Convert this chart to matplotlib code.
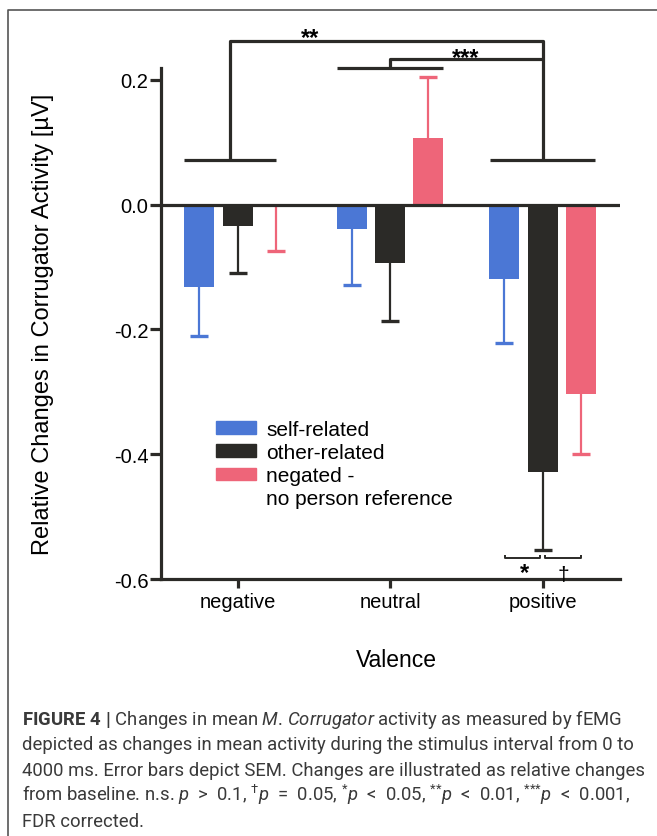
import numpy as np
import matplotlib
matplotlib.use('Agg')
import matplotlib.pyplot as plt
from matplotlib.patches import Patch
from matplotlib.lines import Line2D

plt.rcParams['font.family'] = ['Liberation Sans', 'DejaVu Sans']
plt.rcParams['mathtext.fontset'] = 'custom'
plt.rcParams['mathtext.rm'] = 'Roboto'
plt.rcParams['mathtext.it'] = 'Roboto:italic'
plt.rcParams['mathtext.bf'] = 'Roboto:bold'

# data
valences = ['negative', 'neutral', 'positive']
conditions = ['self-related', 'other-related', 'negated -']
means = {
    'self-related': [-0.132, -0.039, -0.119],
    'other-related': [-0.034, -0.093, -0.428],
    'negated -': [-0.003, 0.107, -0.303],
}
sems = {
    'self-related': [0.078, 0.089, 0.102],
    'other-related': [0.075, 0.093, 0.125],
    'negated -': [0.071, 0.097, 0.097],
}
colors = ['#4b77d5', '#2b2a27', '#ee6579']
dark = '#2b2a27'

fig = plt.figure(figsize=(6.57, 8.37), dpi=100)
ax = fig.add_axes([161 / 657, 1 - 580 / 837, 459 / 657, 511.5 / 837])

x = np.arange(len(valences))
width = 0.197
offsets = [-0.25, 0.0, 0.25]

for cond, off, c in zip(conditions, offsets, colors):
    m = np.array(means[cond])
    e = np.array(sems[cond])
    ends = m + np.sign(m) * e   # one-sided error bars, away from zero
    xs = x + off
    ax.vlines(xs, m, ends, color=c, lw=1.6, zorder=2)
    ax.plot(xs, ends, ls='none', marker='_', ms=13, mew=2.4, color=c, zorder=2)
    ax.bar(xs, m, width=width, color=c, zorder=3)

ax.axhline(0, color=dark, lw=2.3, zorder=5)

ax.set_xlim(-0.502, 2.508)
ax.set_ylim(-0.6, 0.22)
ax.set_yticks([-0.6, -0.4, -0.2, 0.0, 0.2])
ax.set_yticklabels(['-0.6', '-0.4', '-0.2', '0.0', '0.2'])
ax.set_xticks(x)
ax.set_xticklabels(valences)
for s in ['top', 'right']:
    ax.spines[s].set_visible(False)
for s in ['left', 'bottom']:
    ax.spines[s].set_linewidth(2.3)
    ax.spines[s].set_color(dark)
ax.tick_params(axis='y', length=8, width=2.3, color=dark, labelsize=14.5, pad=1)
ax.tick_params(axis='x', length=6.5, width=2.3, color=dark, labelsize=14.5, pad=3)

ax.set_ylabel('Relative Changes in Corrugator Activity [µV]', fontsize=17)
ax.yaxis.set_label_coords(-0.233, 0.5)
ax.set_xlabel('Valence', fontsize=16.5, va='top')
ax.xaxis.set_label_coords(0.512, -0.135)

# significance brackets
def seg(xs, ys, lw=2.3):
    ax.plot(xs, ys, color=dark, lw=lw, clip_on=False, zorder=6,
            solid_capstyle='butt')

top_y, group_y = 0.2625, 0.0713
seg([-0.35, 0.25], [group_y, group_y])
seg([1.656, 2.344], [group_y, group_y])
seg([-0.05, -0.05, 2.0, 2.0], [group_y, top_y, top_y, group_y])
seg([0.652, 1.348], [0.219, 0.219])
seg([1.0, 1.0, 2.0], [0.219, 0.233, 0.233])
ax.text(0.475, 0.257, '**', ha='center', va='baseline', fontsize=17,
        fontweight='bold', clip_on=False)
ax.text(1.498, 0.226, '***', ha='center', va='baseline', fontsize=17,
        fontweight='bold', clip_on=False)

seg([1.754, 1.754, 1.984, 1.984], [-0.562, -0.567, -0.567, -0.562], lw=1.4)
seg([2.016, 2.016, 2.252, 2.252], [-0.562, -0.567, -0.567, -0.562], lw=1.4)
ax.text(1.879, -0.600, '*', ha='center', va='baseline', fontsize=17,
        fontweight='bold')
ax.text(2.134, -0.601, '†', ha='center', va='baseline', fontsize=15)

# legend
handles = [Patch(color=c) for c in colors] + [Patch(facecolor='none', edgecolor='none')]
labels = conditions + ['no person reference']
ax.legend(handles, labels, loc='upper left', bbox_to_anchor=(0.1198, 0.311),
          frameon=False, fontsize=15, handlelength=1.92, handleheight=0.55,
          handletextpad=0.48, labelspacing=0.2, borderpad=0, borderaxespad=0)

# frame around figure
fig.add_artist(Line2D([8 / 657, 8 / 657, 1.0], [0.0, 1 - 11 / 837, 1 - 11 / 837],
                      transform=fig.transFigure, color='#555555', lw=1.2))

# caption
caption = [
    r"$\mathbf{FIGURE\ 4\ |}$ Changes in mean $\mathit{M}$. $\mathit{Corrugator}$ activity as measured by fEMG",
    "depicted as changes in mean activity during the stimulus interval from 0 to",
    "4000 ms. Error bars depict SEM. Changes are illustrated as relative changes",
    r"from baseline. n.s. $\mathit{p}$  >  0.1, ${}^{†}\mathit{p}$  =  0.05, ${}^{{*}}\mathit{p}$  <  0.05, "
    r"${}^{{*}{*}}\mathit{p}$  <  0.01, ${}^{{*}{*}{*}}\mathit{p}$  <  0.001,",
    "FDR corrected.",
]
baselines = [725, 750.5, 776, 801.5, 827]
for line, yb in zip(caption, baselines):
    fig.text(22 / 657, 1 - yb / 837, line, family='Roboto', fontsize=13.3,
             color='#3a3a3a', ha='left', va='baseline')

fig.savefig('out.png', dpi=100)
